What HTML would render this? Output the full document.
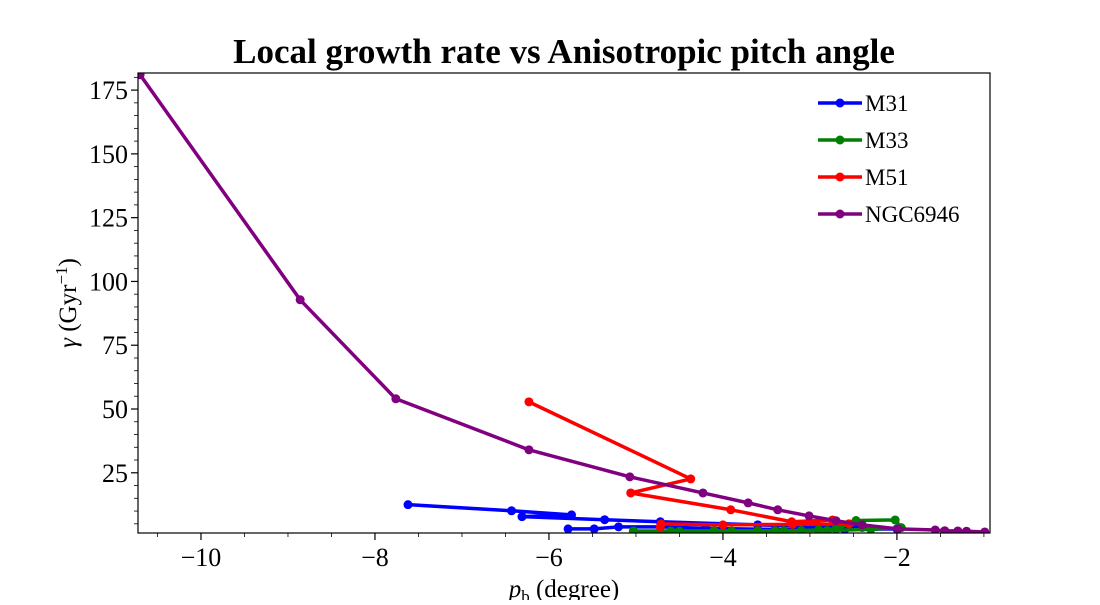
<!DOCTYPE html>
<html><head><meta charset="utf-8"><style>
body{margin:0;background:#fff}
svg text{font-family:"Liberation Serif",serif}
</style></head><body>
<svg id="c" width="1100" height="600" xmlns="http://www.w3.org/2000/svg"></svg>
<script>
const xTicks=[-10,-8,-6,-4,-2];
const yTicks=[25,50,75,100,125,150,175];
const seriesNames=["M31","M33","M51","NGC6946"];
const seriesColors=["blue","green","red","purple"];
const m31X=[-7.62,-6.43,-5.74,-6.31,-5.36,-4.72,-3.6,-2.9,-2.4,-2.0,-2.6,-3.4,-4.2,-4.72,-5.2,-5.48,-5.78];
const m31Y=[12.5,10.1,8.5,7.8,6.6,5.8,4.6,4.0,3.6,3.0,2.8,2.8,3.2,3.8,3.8,3.0,3.0];
const m33X=[-5.03,-4.6,-4.1,-3.6,-3.4,-3.1,-2.9,-2.7,-2.55,-2.47,-2.02,-1.95,-2.3,-2.8,-3.3,-3.9,-4.5];
const m33Y=[2.2,2.2,2.3,2.3,2.3,2.4,2.6,3.0,5.0,6.3,6.5,3.5,2.8,2.4,2.3,2.2,2.1];
const m51X=[-6.23,-4.37,-5.06,-3.91,-3.21,-2.74,-2.55,-3.2,-4.0,-4.71,-4.72];
const m51Y=[52.8,22.6,17.1,10.5,5.8,6.5,5.0,4.8,4.6,5.0,3.8];
const ngcX=[-10.7,-8.86,-7.76,-6.23,-5.07,-4.23,-3.71,-3.37,-3.01,-2.70,-2.40,-1.99,-1.56,-1.45,-1.3,-1.2,-0.99];
const ngcY=[181,92.8,54,34,23.4,17.1,13.2,10.5,8.1,6.2,4.6,3.0,2.6,2.3,2.2,2.1,1.8];
const allX=[m31X,m33X,m51X,ngcX], allY=[m31Y,m33Y,m51Y,ngcY];
const L=138,R=990,T=73,B=533, xmin=-10.724,xmax=-0.93,ymin=1.4,ymax=181.7;
const sx=v=>L+(v-xmin)/(xmax-xmin)*(R-L);
const sy=v=>B-(v-ymin)/(ymax-ymin)*(B-T);
const svg=document.getElementById('c');const NS="http://www.w3.org/2000/svg";
function mk(t,a,p){const e=document.createElementNS(NS,t);for(const k in a)e.setAttribute(k,a[k]);(p||svg).appendChild(e);return e;}
let t=mk('text',{x:564,y:63,'font-size':35,'font-weight':'bold','text-anchor':'middle'});t.textContent="Local growth rate vs Anisotropic pitch angle";


const g=mk('g',{'clip-path':'url(#cp)'});
const cp=mk('clipPath',{id:'cp'});mk('rect',{x:L,y:T,width:R-L,height:B-T},cp);
allX.forEach((xs,i)=>{
 const s=mk('g',{},g);
 
 
 mk('polyline',{points:xs.map((x,j)=>sx(x)+','+sy(allY[i][j])).join(' '),fill:'none',stroke:seriesColors[i],'stroke-width':3.5,'stroke-linejoin':'round'},s);
 xs.forEach((x,j)=>{const c=mk('circle',{cx:sx(x),cy:sy(allY[i][j]),r:4.5,fill:seriesColors[i]},s);
  
  });
});
const fr=mk('rect',{x:L,y:T,width:R-L,height:B-T,fill:'none',stroke:'#000','stroke-width':1.2});


for(let v=-10.5;v<=-1;v+=0.5){const major=Math.abs(v-Math.round(v/2)*2)<1e-9;mk('line',{x1:sx(v),x2:sx(v),y1:B,y2:B+(major?7:4),stroke:'#000','stroke-width':major?1.2:0.8});}
xTicks.forEach(v=>{const e=mk('text',{x:sx(v),y:B+33,'font-size':26,'text-anchor':'middle'});e.textContent='\u2212'+Math.abs(v);
 
 });
for(let v=5;v<=180;v+=5){const major=v%25===0;mk('line',{x1:L,x2:L-(major?7:4),y1:sy(v),y2:sy(v),stroke:'#000','stroke-width':major?1.2:0.8});}
yTicks.forEach(v=>{const e=mk('text',{x:L-10,y:sy(v)+9,'font-size':26,'text-anchor':'end'});e.textContent=v;
 
 });
t=mk('text',{x:564,y:597,'font-size':25,'text-anchor':'middle'});t.innerHTML='<tspan font-style="italic">p</tspan><tspan font-size="17" dy="5">b</tspan><tspan dy="-5"> (degree)</tspan>';


t=mk('text',{transform:'translate(76,303) rotate(-90)','font-size':25,'text-anchor':'middle'});t.innerHTML='<tspan font-style="italic">γ</tspan> (Gyr<tspan font-size="17" dy="-9">−1</tspan><tspan dy="9">)</tspan>';


seriesNames.forEach((n,i)=>{const y=103+i*37;const lg=mk('g');
 
 
 mk('line',{x1:818,x2:862,y1:y,y2:y,stroke:seriesColors[i],'stroke-width':3.5},lg);
 mk('circle',{cx:840,cy:y,r:4.5,fill:seriesColors[i]},lg);
 const e=mk('text',{x:865,y:y+8,'font-size':23},lg);e.textContent=n;});
</script>
</body></html>
